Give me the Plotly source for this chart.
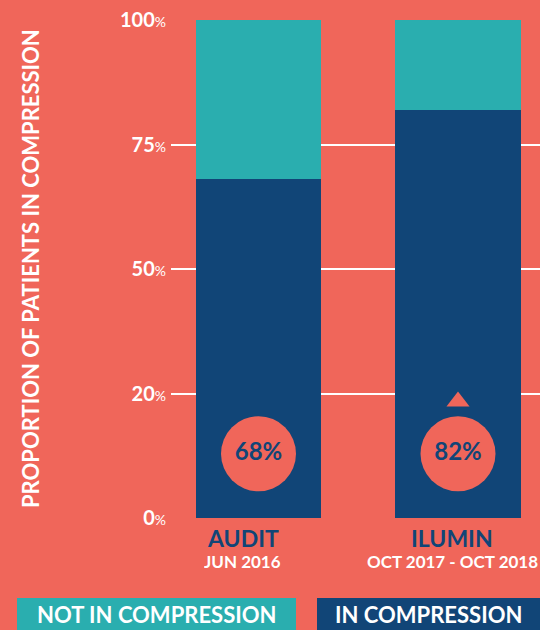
import plotly.graph_objects as go

# ---- data ----
categories = ["AUDIT", "ILUMIN"]
periods = ["JUN 2016", "OCT 2017 - OCT 2018"]
in_compression = [68, 82]
not_in_compression = [32, 18]
series_names = ["NOT IN COMPRESSION", "IN COMPRESSION"]
y_tick_values = [0, 25, 50, 75, 100]
y_tick_numbers = ["0", "20", "50", "75", "100"]
y_title = "PROPORTION OF PATIENTS IN COMPRESSION"

# ---- style ----
BG = "#F0665A"
TEAL = "#2AAEAF"
NAVY = "#114577"
WHITE = "#FFFFFF"
FONT = "Lato"
W, H = 540, 630
L, R, T, B = 171, 0, 20, 112
plot_w = W - L - R
plot_h = H - T - B
label_xshift = [-16, -6]
circle_y = 12.9
tri_y = 23.4

def px_x(p):  # pixel x -> paper x
    return (p - L) / plot_w

def px_y(p):  # pixel y -> paper y
    return (H - B - p) / plot_h

fig = go.Figure()
fig.add_trace(go.Bar(x=[0, 1], y=in_compression, name=series_names[1],
                     marker=dict(color=NAVY, line=dict(width=0)), width=0.627))
fig.add_trace(go.Bar(x=[0, 1], y=not_in_compression, name=series_names[0],
                     marker=dict(color=TEAL, line=dict(width=0)), width=0.627))

# circles with values
fig.add_trace(go.Scatter(
    x=[0, 1], y=[circle_y] * 2, mode="markers+text",
    marker=dict(size=75, color=BG, line=dict(width=0)),
    text=[f"{v}%" for v in in_compression], textposition="middle center",
    textfont=dict(family=FONT, size=24, color=NAVY, weight="bold"),
    hoverinfo="skip"))

# increase triangle above the second circle
fig.add_trace(go.Scatter(
    x=[1], y=[tri_y], mode="markers",
    marker=dict(symbol="triangle-up", size=20, color=BG, line=dict(width=0)),
    hoverinfo="skip"))

# category labels
for i, (c, p) in enumerate(zip(categories, periods)):
    fig.add_annotation(x=i, y=0, xref="x", yref="paper", text=f"<b>{c}</b>",
                       showarrow=False, yanchor="middle", yshift=-19.5,
                       xshift=label_xshift[i], height=18,
                       font=dict(family=FONT, size=23, color=NAVY))
    fig.add_annotation(x=i, y=0, xref="x", yref="paper", text=f"<b>{p}</b>",
                       showarrow=False, yanchor="middle", yshift=-42.5,
                       xshift=label_xshift[i], height=14,
                       font=dict(family=FONT, size=17, color=WHITE))

# y title
fig.add_annotation(x=px_x(30), y=0.5, xref="paper", yref="paper",
                   text=f"<b>{y_title}</b>", textangle=-90, showarrow=False,
                   xanchor="center", yanchor="middle",
                   font=dict(family=FONT, size=22, color=WHITE))

# legend boxes
legend_boxes = [(17, 296, TEAL, series_names[0]), (317, 540, NAVY, series_names[1])]
for x0, x1, col, name in legend_boxes:
    fig.add_shape(type="rect", xref="paper", yref="paper",
                  x0=px_x(x0), x1=px_x(x1), y0=px_y(598), y1=px_y(632),
                  fillcolor=col, line=dict(width=0), layer="above")
    fig.add_annotation(x=px_x((x0 + x1) / 2), y=px_y(614), xref="paper", yref="paper",
                       text=f"<b>{name}</b>", showarrow=False,
                       xanchor="center", yanchor="middle",
                       font=dict(family=FONT, size=22, color=WHITE))

fig.update_layout(
    width=W, height=H, margin=dict(l=L, r=R, t=T, b=B, pad=0),
    paper_bgcolor=BG, plot_bgcolor=BG, barmode="stack", bargap=0,
    showlegend=False,
    font=dict(family=FONT, color=WHITE),
    xaxis=dict(range=[-0.4386, 1.411], showgrid=False, zeroline=False,
               showticklabels=False, showline=False, fixedrange=True),
    yaxis=dict(range=[0, 100], tickvals=y_tick_values,
               ticktext=[f"<b>{n}</b><span style='font-size:14px'>%</span>" for n in y_tick_numbers],
               tickfont=dict(family=FONT, size=20, color=WHITE),
               showgrid=True, gridcolor=WHITE, gridwidth=2,
               zeroline=False, showline=False, ticks="", ticklabelstandoff=4,
               fixedrange=True),
)

fig.write_html("out.html", config={"displayModeBar": False},
               post_script="document.body.style.margin='0';document.body.style.overflow='hidden';")
